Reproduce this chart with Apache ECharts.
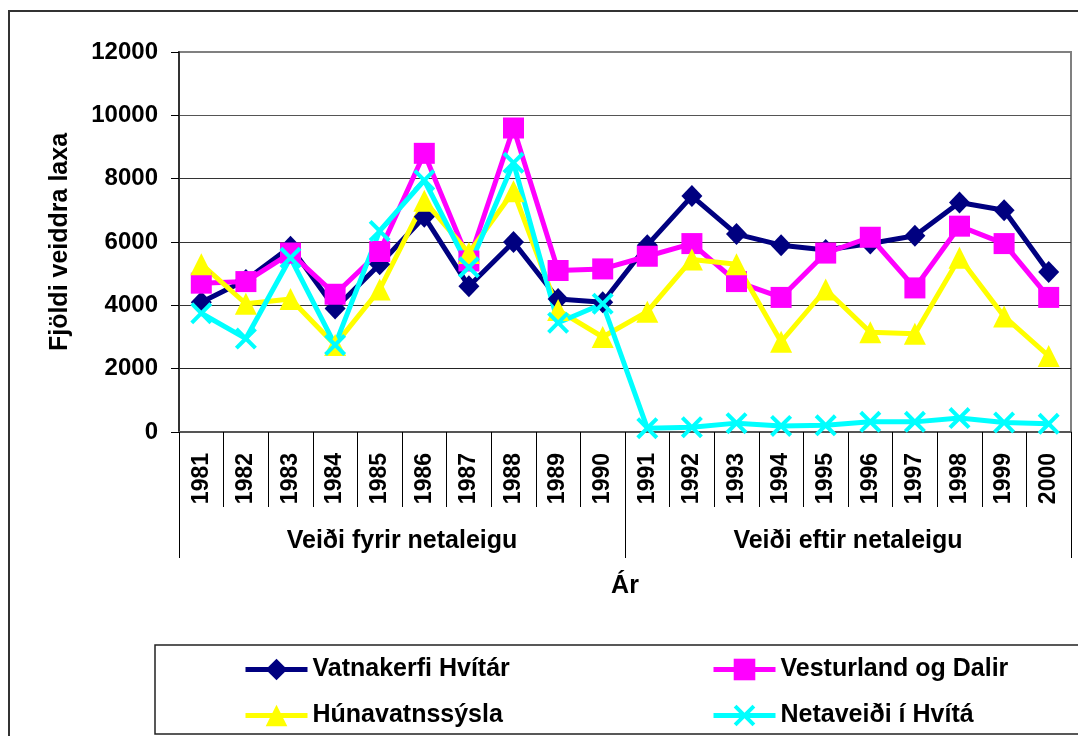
<!DOCTYPE html>
<html>
<head>
<meta charset="utf-8">
<script src="https://cdn.jsdelivr.net/npm/echarts@6/dist/echarts.min.js"></script>
<style>
  html, body { margin: 0; padding: 0; background: #fff; }
  #c_chart { width: 1078px; height: 736px; }
</style>
</head>
<body>
<div id="c_chart"></div>
<script>
// gögn lesin af myndinni
const years = ['1981', '1982', '1983', '1984', '1985', '1986', '1987', '1988', '1989', '1990',
  '1991', '1992', '1993', '1994', '1995', '1996', '1997', '1998', '1999', '2000']
const periods = ['Veiði fyrir netaleigu', 'Veiði eftir netaleigu']
const yTicks = [0, 2000, 4000, 6000, 8000, 10000, 12000]

const vatnakerfi = [4100, 4800, 5850, 3900, 5300, 6800, 4600, 6000, 4200, 4100,
  5900, 7450, 6250, 5900, 5750, 5950, 6200, 7250, 7000, 5050]
const vesturland = [4700, 4750, 5650, 4350, 5700, 8800, 5400, 9600, 5100, 5150,
  5550, 5950, 4750, 4250, 5650, 6150, 4550, 6500, 5950, 4250]
const hunavatn = [5300, 4050, 4200, 2750, 4500, 7300, 5650, 7600, 3850, 3000,
  3800, 5450, 5300, 2850, 4500, 3150, 3100, 5500, 3650, 2400]
const netaveidi = [3750, 2950, 5500, 2750, 6350, 7950, 5200, 8500, 3450, 4050,
  120, 150, 280, 190, 210, 320, 320, 440, 300, 260]

const FONT = 'Liberation Sans'
const xMark = 'path://M0,1.3 L1.3,0 L5,3.7 L8.7,0 L10,1.3 L6.3,5 L10,8.7 L8.7,10 L5,6.3 L1.3,10 L0,8.7 L3.7,5 Z'

function makeSeries (name, data, color, symbol, size) {
  return {
    name: name,
    type: 'line',
    data: data,
    symbol: symbol,
    symbolSize: size,
    showSymbol: true,
    animation: false,
    lineStyle: { width: 5, color: color },
    itemStyle: { color: color }
  }
}

// ein þjóðsaga á hvern lið, svo dálkarnir standist á
function makeLegend (name, left, top) {
  return {
    data: [name],
    left: left,
    top: top,
    itemWidth: 62,
    itemHeight: 27,
    lineStyle: { width: 5 },
    textStyle: { fontFamily: FONT, fontWeight: 'bold', fontSize: 25, color: '#000', lineHeight: 27 }
  }
}

const chart = echarts.init(document.getElementById('c_chart'))
const option = {
  animation: false,
  textStyle: { fontFamily: FONT },
  grid: {
    left: 179,
    right: 7,
    top: 52,
    bottom: 304,
    containLabel: false,
    show: true,
    borderColor: '#808080',
    borderWidth: 2,
    backgroundColor: '#fff'
  },
  graphic: [{
    type: 'rect',
    shape: { x: 9, y: 11, width: 1200, height: 900 },
    style: { fill: 'none', stroke: '#333', lineWidth: 2 },
    z: -1
  }, {
    type: 'rect',
    shape: { x: 155, y: 645, width: 1000, height: 89 },
    style: { fill: '#fff', stroke: '#222', lineWidth: 1.5 },
    z: -1
  }],
  legend: [
    makeLegend('Vatnakerfi Hvítár', 238, 651),
    makeLegend('Vesturland og Dalir', 706, 651),
    makeLegend('Húnavatnssýsla', 238, 697),
    makeLegend('Netaveiði í Hvítá', 706, 697)
  ],
  xAxis: [{
    type: 'category',
    data: years,
    position: 'bottom',
    axisLine: { lineStyle: { color: '#555', width: 2 } },
    axisTick: { show: true, interval: 0, length: 75, lineStyle: { color: '#000', width: 1 } },
    axisLabel: {
      interval: 0,
      rotate: 90,
      margin: 21,
      fontFamily: FONT,
      fontWeight: 'bold',
      fontSize: 23,
      color: '#000'
    }
  }, {
    type: 'category',
    data: periods,
    position: 'bottom',
    offset: 0,
    axisLine: { show: false },
    axisTick: { show: true, interval: 0, length: 126, lineStyle: { color: '#000', width: 1 } },
    axisLabel: {
      interval: 0,
      margin: 97,
      fontFamily: FONT,
      fontWeight: 'bold',
      fontSize: 25,
      color: '#000'
    },
    name: 'Ár',
    nameLocation: 'middle',
    nameGap: 142,
    nameTextStyle: { fontFamily: FONT, fontWeight: 'bold', fontSize: 25, color: '#000' }
  }],
  yAxis: {
    type: 'value',
    min: yTicks[0],
    max: yTicks[yTicks.length - 1],
    interval: 2000,
    name: 'Fjöldi veiddra laxa',
    nameLocation: 'middle',
    nameGap: 106,
    nameTextStyle: { fontFamily: FONT, fontWeight: 'bold', fontSize: 25, color: '#000' },
    axisLine: { show: true, lineStyle: { color: '#333', width: 2 } },
    axisTick: { show: true, length: 8, lineStyle: { color: '#000', width: 1 } },
    axisLabel: {
      margin: 21,
      formatter: function (v) { return String(v) },
      fontFamily: FONT,
      fontWeight: 'bold',
      fontSize: 24,
      color: '#000'
    },
    splitLine: {
      lineStyle: { color: ['#333', '#222', '#333', '#333', '#333', '#555', '#808080'], width: 1 }
    }
  },
  series: [
    makeSeries('Vatnakerfi Hvítár', vatnakerfi, '#000080', 'diamond', [21, 22]),
    makeSeries('Vesturland og Dalir', vesturland, '#FF00FF', 'rect', 21),
    makeSeries('Húnavatnssýsla', hunavatn, '#FFFF00', 'triangle', 22),
    makeSeries('Netaveiði í Hvítá', netaveidi, '#00FFFF', xMark, 22)
  ]
}
chart.setOption(option, true)
window.addEventListener('resize', function () {
  chart.resize()
})
</script>
</body>
</html>
